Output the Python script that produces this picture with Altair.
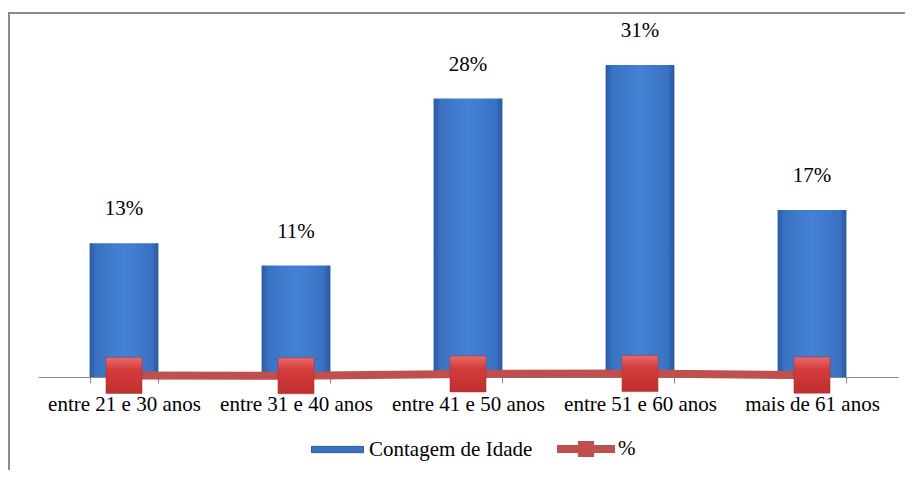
import altair as alt
import pandas as pd

CATEGORIES = ["entre 21 e 30 anos", "entre 31 e 40 anos", "entre 41 e 50 anos",
              "entre 51 e 60 anos", "mais de 61 anos"]
COUNTS = [12, 10, 25, 28, 15]
PCT = [0.133, 0.111, 0.278, 0.311, 0.167]
SERIES = ["Contagem de Idade", "%"]

df = pd.DataFrame({"cat": CATEGORIES, "count": COUNTS, "pct": PCT,
                   "s_bar": SERIES[0], "s_line": SERIES[1]})
frame_df = pd.DataFrame({"a": [0]})

FONT = "Times New Roman, Liberation Serif, Tinos, DejaVu Serif, serif"
FS = 21

bar_grad = alt.Gradient(
    gradient="linear", x1=0, x2=1, y1=0, y2=0,
    stops=[alt.GradientStop(color="#2a5aa0", offset=0),
           alt.GradientStop(color="#3a72c3", offset=0.1),
           alt.GradientStop(color="#4481d4", offset=0.5),
           alt.GradientStop(color="#3a72c3", offset=0.9),
           alt.GradientStop(color="#28579b", offset=1)])
mark_grad = alt.Gradient(
    gradient="linear", x1=0, x2=0, y1=0, y2=1,
    stops=[alt.GradientStop(color="#e86a6a", offset=0),
           alt.GradientStop(color="#d43c3c", offset=0.35),
           alt.GradientStop(color="#bf2f2f", offset=1)])

x = alt.X("cat:N", sort=CATEGORIES, title=None,
          scale=alt.Scale(paddingInner=0.6, paddingOuter=0.3),
          axis=alt.Axis(labelAngle=0, labelFont=FONT, labelFontSize=FS, labelColor="black",
                        domainColor="#888888", tickColor="#888888", tickSize=6,
                        tickBand="extent", labelPadding=10, labelLimit=300, grid=False))
yscale = alt.Scale(domain=[0, 31.6])

base = alt.Chart(df)

frame = alt.Chart(frame_df).mark_rect(fill=None, stroke="#8c8c8c", strokeWidth=2).encode(
    x=alt.value(-29), x2=alt.value(900), y=alt.value(-12), y2=alt.value(480))

bars = base.mark_bar(fill=bar_grad).encode(
    x=x, y=alt.Y("count:Q", scale=yscale, axis=None))

bar_legend = base.mark_bar(opacity=0).encode(
    x=x, y=alt.Y("count:Q", scale=yscale, axis=None),
    fill=alt.Fill("s_bar:N", scale=alt.Scale(domain=[SERIES[0]], range=["#3b73c4"]),
                  legend=alt.Legend(title=None, orient="none", legendX=273, legendY=398,
                                    padding=0, symbolType="M-1,-0.12H1V0.12H-1Z",
                                    symbolSize=2704, symbolOpacity=1,
                                    symbolStrokeColor="#2a5aa0", symbolStrokeWidth=1,
                                    labelFont=FONT, labelFontSize=FS, labelColor="black",
                                    labelLimit=400, labelOffset=5)))

line = base.mark_line(color="#c0504d", strokeWidth=8).encode(
    x=x, y=alt.Y("pct:Q", scale=yscale, axis=None))

points = base.mark_square(size=1300, fill=mark_grad, filled=True, opacity=1,
                          stroke="#a83030", strokeWidth=0.5).encode(
    x=x, y=alt.Y("pct:Q", scale=yscale, axis=None))

pt_legend = base.mark_square(opacity=0, size=10).encode(
    x=x, y=alt.Y("pct:Q", scale=yscale, axis=None),
    fill=alt.Fill("s_line:N", scale=alt.Scale(domain=[SERIES[1]], range=["#c0504d"]),
                  legend=alt.Legend(title=None, orient="none", legendX=519, legendY=395,
                                    padding=0,
                                    symbolType="M-1,-0.14H1V0.14H-1Z M-0.28,-0.28H0.28V0.28H-0.28Z",
                                    symbolSize=3364, symbolOpacity=1, symbolStrokeWidth=0,
                                    labelFont=FONT, labelFontSize=FS, labelColor="black",
                                    labelLimit=400, labelOffset=3)))

labels = base.mark_text(dy=-28, baseline="alphabetic", font=FONT, fontSize=FS,
                        color="black").encode(
    x=x, y=alt.Y("count:Q", scale=yscale, axis=None),
    text=alt.Text("pct:Q", format=".0%"))

chart = alt.layer(frame, bars, bar_legend, line, points, pt_legend, labels).resolve_scale(
    fill="independent"
).properties(
    width=860, height=352,
    background="white",
    autosize=alt.AutoSizeParams(type="none"),
    padding={"left": 30, "top": 17, "right": 7, "bottom": 93},
).configure_view(stroke=None)

chart.save("out.html", embed_options={"renderer": "svg", "actions": False})
